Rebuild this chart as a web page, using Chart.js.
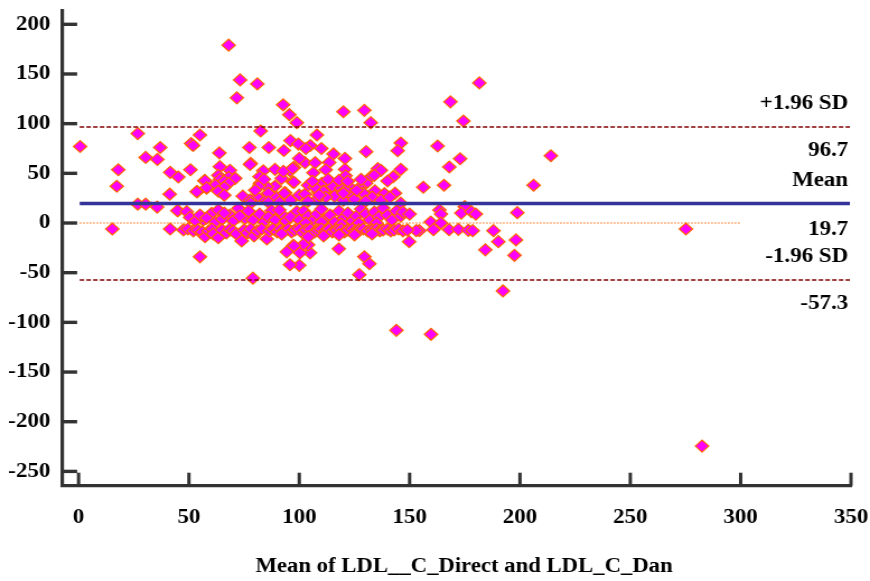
<!DOCTYPE html>
<html>
<head>
<meta charset="utf-8">
<title>Bland-Altman plot</title>
<script src="https://cdn.jsdelivr.net/npm/chart.js@4"></script>
<style>
html, body { margin: 0; padding: 0; background: #fff; overflow: hidden; }
/* the original picture is a little wider than tall, everything in it is stretched */
#wrap { width: 777px; height: 581px; transform: scaleX(1.1197); transform-origin: 0 0; }
</style>
</head>
<body>
<div id="wrap"><canvas id="baPlot" width="777" height="581"></canvas></div>
<script>
var xTicks = [0, 50, 100, 150, 200, 250, 300, 350];
var yTicks = [200, 150, 100, 50, 0, -50, -100, -150, -200, -250];
var limitNames = ['+1.96 SD', 'Mean', '-1.96 SD'];
var limitValues = [96.7, 19.7, -57.3];
var axisTitle = 'Mean of LDL__C_Direct and LDL_C_Dan';

// [mean, difference]
var outerPoints = [
    [0.7,77],[26.8,90],[30.4,66],[35.7,64],[37,76],[18,53.6],[17.3,37],[26.8,19],[30.4,19],[35.6,16],[15.3,-6],
    [41.5,51],[45.2,46.3],[50.7,53.6],[51,80],[51.9,78],[55,88.6],[41.3,29],[45,12.4],[41.5,-6],[57,42.6],
    [53.8,31.5],[58,35],[63.8,70.5],[64,56.7],[68,179],[73.2,144],[81,140],[71.7,126],[92.7,119],[95.5,109],
    [98.9,101],[82.5,92.6],[96,83],[99.6,79.5],[77.4,76],[86.2,76],[93,73],[78,60],[181.6,141],[168.5,122],
    [174.4,102.7],[120,112],[129.5,113.4],[132.4,101],[108,88.6],[146,80.5],[144.6,72.8],[162.7,77.5],
    [130.3,71.8],[214,67.7],[172.9,64.7],[168,56.4],[156.2,36],[165.6,38],[206.2,38],[198.8,10.4],[163.5,13],
    [164.2,9],[175,16.4],[173.4,10],[178,11.4],[180,9],[159.6,1],[164.2,0],[160.8,-6.7],[154.4,-7.7],[153,-7.7],
    [167.9,-6.7],[172.1,-6.4],[176.6,-7.4],[178.6,-7.7],[188,-7.7],[190.2,-18.8],[198.2,-17],[184.3,-27],
    [197.5,-32.5],[192.3,-68.4],[149.8,-18.8],[117.9,-26],[129.5,-34],[131.8,-41],[127.2,-52],[100,-42.6],
    [95.8,-42],[104.9,-30],[100.3,-30],[104,-22],[101.9,-21.5],[97.3,-22.5],[94.3,-29],[97.6,-23],[144,-108],
    [159.7,-112],[282.5,-224.5],[275.2,-6],[79,-55.5],[55,-34]
];
var upperPoints = [
    [68.6,53],[63.3,48],[64,44],[68,46],[71,45],[66,42],[68,40],[62,38],[66,36],[57.3,42.6],[58,35.5],[53.5,31.5],
    [63.3,32],[66,28],[74.4,27],[77.7,59],[83.7,52.6],[89,54],[95.8,52.6],[97,41.5],[92,45],[82.2,40],[89,37],
    [83.6,25],[93.6,30.5],[89.5,26],[80.7,26.5],[77.7,23],[82,46.6],[85.3,36.5],[92.8,52],[97.6,56],[97.6,41],
    [93.2,30],[82,38],[86,30],[80,33],[84,44],[78,20],[86,21],[91,21],[96,23],[100,28],
    [115.5,69.5],[120.7,65],[113.6,61],[102.6,60.7],[107.2,60.7],[112,53.6],[97,55],[106.4,50.6],[120.7,54],
    [121,47.6],[135.6,54.7],[146,54],[132.5,46.6],[142.6,46.6],[140,42.3],[130.3,40],[127.5,36],[102.6,29],
    [134.3,32.5],[138.6,29.5],[143.4,30],[108.6,31.5],[113,34],[117,40],[110.2,40],[113.6,42.6],[123,36],
    [117.7,30],[123.8,28],[137,53],[134,48],[105,78],[110,75],[103,75],[100,65],[104,38],[107,36],[111,32],
    [115,37],[119,35],[121,33],[116,27],[112,26],[108,24],[104,22],[120,23],[125,24],[129,30],[133,26],
    [137,23],[141,26],[146,20],[106,42],[109,28],[113,44],[118,43],[122,42],[126,33],[130,22],[120,30],[128,44]
];
var lowerPoints = [
    [44.8,12.4],[49,11.4],[50.5,5.7],[56.5,3],[60.3,9.8],[68.6,8],[63.3,13],[75.4,4.7],[72.4,14.8],[87.5,12.4],
    [92.5,7.7],[98.9,11.4],[53,2],[55,8],[58,5],[62,1],[65,4],[66,10],[70,2],[73,7],[77,12],[79,3],[82,9],
    [84,1],[86,6],[89,3],[91,13],[94,2],[96,6],[100,3],[102,12],[104,7],[106,2],[108,9],[110,14],[112,4],
    [114,8],[116,1],[118,12],[120,5],[122,10],[124,2],[126,7],[128,14],[130,9],[132,3],[134,11],[136,6],
    [138,15],[140,8],[142,3],[144,12],[146,7],[147,11],[150,9],[110,1],[119,-1],[127,0],[135,0],[103,0],
    [47.5,-7],[49.5,-6],[52,-8],[54,-7],[56,-9],[57.3,-13.8],[59,-8],[60.5,-6],[61,-11],[63.3,-14.8],[65,-7],
    [67,-10],[68.5,-6],[70,-8],[71.5,-11],[73.9,-18],[75,-7],[76.5,-10],[78,-6],[79.5,-13],[81,-8],[83,-6],
    [85.3,-16],[86.5,-8],[88,-6],[90,-9],[91.5,-6],[93,-8],[95,-6],[96.5,-9],[98,-7],[100,-6],[101.5,-10],
    [103,-7],[105,-6],[107,-9],[108.5,-7],[110,-6],[112,-8],[113.5,-6],[115,-9],[117,-7],[119,-6],[120.5,-9],
    [122,-7],[124,-6],[125.5,-8],[127,-7],[129,-6],[131,-8],[133,-7],[135,-6],[136.5,-8],[138,-7],[140,-6],
    [141.5,-8],[143,-7],[145,-6],[147,-8],[149,-7],[104,-14],[111,-13],[118,-12],[125,-12],[133,-11],[92,-11]
];

var linePlugin = {
    id: 'limitText',
    afterDatasetsDraw: function (chart) {
        var ctx = chart.ctx;
        var xScale = chart.scales.x;
        var yScale = chart.scales.y;
        var area = chart.chartArea;
        var valueGap = [24, 26, 23.5];
        ctx.save();
        // tick marks point into the plot
        ctx.strokeStyle = '#333';
        ctx.lineWidth = 3.4;
        yTicks.forEach(function (v) {
            var py = yScale.getPixelForValue(v);
            ctx.beginPath();
            ctx.moveTo(area.left, py);
            ctx.lineTo(area.left + 13.5, py);
            ctx.stroke();
        });
        ctx.lineWidth = 3;
        xTicks.forEach(function (v) {
            var px = xScale.getPixelForValue(v);
            ctx.beginPath();
            ctx.moveTo(px, area.bottom);
            ctx.lineTo(px, area.bottom - 13);
            ctx.stroke();
        });
        ctx.fillStyle = '#000';
        ctx.font = 'bold 20.5px "Liberation Serif"';
        ctx.textAlign = 'right';
        ctx.textBaseline = 'middle';
        limitValues.forEach(function (v, i) {
            var py = yScale.getPixelForValue(v);
            ctx.fillText(limitNames[i], area.right - 2.5, py - 23);
            ctx.fillText(v.toFixed(1), area.right - 2.5, py + valueGap[i]);
        });
        ctx.textAlign = 'center';
        ctx.font = 'bold 20.3px "Liberation Serif"';
        ctx.fillText(axisTitle, 414.5, 567);
        ctx.restore();
    }
};

function limitLine(value, color, width, dash) {
    return {
        type: 'line',
        data: [{ x: 0.5, y: value }, { x: 349.5, y: value }],
        borderColor: color,
        borderWidth: width,
        borderDash: dash,
        pointRadius: 0,
        order: 1
    };
}

var tickFont = { family: '"Liberation Serif"', size: 20.5, weight: 'bold' };

new Chart(document.getElementById('baPlot'), {
    type: 'scatter',
    data: {
        datasets: [
            {
                type: 'line',
                data: [{ x: 0.5, y: 0 }, { x: 300, y: 0 }],
                borderColor: '#ff6600',
                borderWidth: 1.2,
                borderDash: [1.5, 1.5],
                pointRadius: 0,
                order: 3
            },
            {
                data: outerPoints.concat(upperPoints, lowerPoints).map(function (p) {
                    return { x: p[0], y: p[1] };
                }),
                pointStyle: 'rectRot',
                pointRadius: 6,
                pointBackgroundColor: '#ff00ff',
                pointBorderColor: '#ff6600',
                pointBorderWidth: 1.2,
                order: 2
            },
            limitLine(limitValues[0], '#800000', 1.4, [4, 2]),
            limitLine(limitValues[1], '#333399', 3.4, []),
            limitLine(limitValues[2], '#800000', 1.4, [4, 2])
        ]
    },
    plugins: [linePlugin],
    options: {
        responsive: false,
        animation: false,
        layout: { autoPadding: false, padding: { top: 11, right: 17, bottom: 0, left: 0 } },
        plugins: { legend: { display: false }, title: { display: false }, tooltip: { enabled: false } },
        scales: {
            x: {
                type: 'linear',
                min: -7.5,
                max: 350,
                afterBuildTicks: function (scale) {
                    scale.ticks = xTicks.map(function (v) { return { value: v }; });
                },
                afterFit: function (scale) {
                    scale.height = 95.3;
                    scale.paddingLeft = 0;
                    scale.paddingRight = 0;
                },
                grid: { display: false },
                border: { display: true, color: '#333', width: 3.2 },
                ticks: { color: '#000', font: tickFont, padding: 12, autoSkip: false, maxRotation: 0 }
            },
            y: {
                type: 'linear',
                min: -264.4,
                max: 213.4,
                afterBuildTicks: function (scale) {
                    scale.ticks = yTicks.map(function (v) { return { value: v }; });
                },
                afterFit: function (scale) {
                    scale.width = 55.4;
                    scale.paddingTop = 0;
                    scale.paddingBottom = 0;
                },
                grid: { display: false },
                border: { display: true, color: '#333', width: 3.2 },
                ticks: { color: '#000', font: tickFont, padding: 2.5, autoSkip: false }
            }
        }
    }
});
</script>
</body>
</html>
